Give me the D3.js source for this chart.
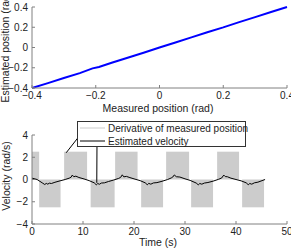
<!DOCTYPE html>
<html>
<head>
<meta charset="utf-8">
<script src="https://cdn.jsdelivr.net/npm/d3@7"></script>
<style>
  body { margin: 0; background: #fff; }
  svg { font-family: "Liberation Sans", Arial, sans-serif; }
  text { fill: #222; }
</style>
</head>
<body>
<svg id="chart" width="291" height="248"></svg>
<script>
// top panel: measured vs estimated position
const posTicks = [-0.4, -0.2, 0, 0.2, 0.4];
const measured = [-0.4, -0.35, -0.3, -0.25, -0.21, -0.19, -0.15, -0.1, -0.05, 0, 0.05, 0.1, 0.15, 0.2, 0.25, 0.3, 0.35, 0.4];
const estimated = [-0.4, -0.352, -0.302, -0.253, -0.206, -0.192, -0.151, -0.101, -0.052, 0.0, 0.049, 0.1, 0.151, 0.199, 0.251, 0.3, 0.351, 0.4];

// bottom panel: velocity
const velTicks = [-4, -2, 0, 2, 4];
const timeTicks = [0, 10, 20, 30, 40, 50];
// derivative of measured position: blocks [start, end, level]
const derivStart = [0, 1.4, 6.3, 11.5, 16.3, 21.4, 26.3, 31.2, 36.3, 41.2];
const derivEnd   = [1.4, 5.6, 10.8, 16.2, 20.7, 25.7, 30.8, 35.5, 40.6, 45.5];
const derivLevel = [2.5, -2.5, 2.5, -2.5, 2.5, -2.5, 2.5, -2.5, 2.5, -2.5];
// estimated velocity
const velTime = [0, 1, 2, 2.5, 2.8, 3.1, 3.4, 3.8, 4.5, 5.5, 6.5, 7.3, 7.7, 7.9, 8.2, 8.6, 9.2, 10.2, 11.2, 12.2, 12.6, 12.9, 13.2, 13.6, 14.2, 15, 16, 17, 17.4, 17.7, 18, 18.5, 19.2, 20.2, 21.2, 22.2, 22.6, 22.9, 23.3, 23.8, 24.5, 25.5, 26.6, 27.3, 27.6, 27.9, 28.3, 29, 30, 31, 32.2, 32.6, 32.9, 33.3, 33.8, 34.5, 35.5, 36.6, 37.2, 37.6, 37.9, 38.3, 39, 40, 41, 42, 42.4, 42.7, 43.1, 43.6, 44.3, 45.7];
const velValue = [0.12, 0.0, -0.3, -0.45, -0.35, -0.42, -0.33, -0.36, -0.25, -0.12, 0.0, 0.12, 0.22, 0.4, 0.25, 0.3, 0.18, 0.05, -0.1, -0.3, -0.48, -0.36, -0.43, -0.32, -0.3, -0.18, -0.05, 0.1, 0.2, 0.42, 0.24, 0.28, 0.17, 0.03, -0.1, -0.3, -0.47, -0.35, -0.42, -0.31, -0.28, -0.16, 0.0, 0.14, 0.22, 0.41, 0.25, 0.22, 0.06, -0.08, -0.32, -0.48, -0.36, -0.42, -0.32, -0.27, -0.15, 0.02, 0.14, 0.4, 0.26, 0.25, 0.12, 0.0, -0.12, -0.3, -0.47, -0.36, -0.42, -0.3, -0.24, 0.0];

const svg = d3.select("#chart");
const x0 = 32, x1 = 287;

function drawAxes(g, x, y, xt, yt, xfmt, yfmt, bottom, top) {
  // bottom axis line + ticks inside
  g.append("line").attr("x1", x0).attr("x2", x1).attr("y1", bottom).attr("y2", bottom)
    .attr("stroke", "#808080").attr("stroke-width", 1);
  g.append("line").attr("x1", x0).attr("x2", x0).attr("y1", top).attr("y2", bottom)
    .attr("stroke", "#808080").attr("stroke-width", 1);
  g.selectAll(".xt").data(xt).enter().append("line")
    .attr("x1", d => x(d)).attr("x2", d => x(d))
    .attr("y1", bottom).attr("y2", bottom - 3)
    .attr("stroke", "#808080");
  g.selectAll(".yt").data(yt).enter().append("line")
    .attr("x1", x0).attr("x2", x0 + 3)
    .attr("y1", d => y(d)).attr("y2", d => y(d))
    .attr("stroke", "#808080");
  g.selectAll(".xl").data(xt).enter().append("text")
    .attr("x", d => x(d)).attr("y", bottom + 11)
    .attr("text-anchor", "middle").attr("font-size", 10)
    .text(xfmt);
  g.selectAll(".yl").data(yt).enter().append("text")
    .attr("x", x0 - 4).attr("y", d => y(d) + 3.5)
    .attr("text-anchor", "end").attr("font-size", 10)
    .text(yfmt);
}

const fmtPos = d => d === 0 ? "0" : d3.format(".1f")(d).replace("-", "\u2212");
const fmtInt = d => String(d).replace("-", "\u2212");

// ---- top panel
const xP = d3.scaleLinear().domain([-0.4, 0.4]).range([x0, x1]);
const yP = d3.scaleLinear().domain([-0.4, 0.4]).range([88, 7]);
const gTop = svg.append("g");

gTop.append("path")
  .datum(d3.zip(measured, estimated))
  .attr("fill", "none").attr("stroke", "#0000ff").attr("stroke-width", 2)
  .attr("d", d3.line().x(d => xP(d[0])).y(d => yP(d[1])));

drawAxes(gTop, xP, yP, posTicks, posTicks, fmtPos, fmtPos, 88, 7);

gTop.append("text").attr("x", 158).attr("y", 112)
  .attr("text-anchor", "middle").attr("font-size", 10.5)
  .text("Measured position (rad)");
gTop.append("text").attr("transform", "translate(9,47) rotate(-90)")
  .attr("text-anchor", "middle").attr("font-size", 10.5)
  .text("Estimated position (rad)");

// ---- bottom panel
const xT = d3.scaleLinear().domain([0, 50]).range([x0, x1]);
const yV = d3.scaleLinear().domain([-4, 4]).range([224, 135]);
const gBot = svg.append("g");

gBot.selectAll("rect.deriv").data(derivStart).enter().append("rect")
  .attr("class", "deriv")
  .attr("x", (d, i) => xT(d))
  .attr("width", (d, i) => xT(derivEnd[i]) - xT(d))
  .attr("y", (d, i) => Math.min(yV(derivLevel[i]), yV(0)))
  .attr("height", (d, i) => Math.abs(yV(derivLevel[i]) - yV(0)))
  .attr("fill", "#cccccc");

gBot.append("path")
  .datum(d3.zip(velTime, velValue))
  .attr("fill", "none").attr("stroke", "#000").attr("stroke-width", 1)
  .attr("d", d3.line().x(d => xT(d[0])).y(d => yV(d[1])));

drawAxes(gBot, xT, yV, timeTicks, velTicks, fmtInt, fmtInt, 224, 135);

gBot.append("text").attr("x", 158).attr("y", 246)
  .attr("text-anchor", "middle").attr("font-size", 10.5)
  .text("Time (s)");
gBot.append("text").attr("transform", "translate(10,176) rotate(-90)")
  .attr("text-anchor", "middle").attr("font-size", 10.5)
  .text("Velocity (rad/s)");

// arrows
const defs = svg.append("defs");
defs.append("marker").attr("id", "ah").attr("viewBox", "0 0 10 10")
  .attr("refX", 9).attr("refY", 5).attr("markerWidth", 7).attr("markerHeight", 7)
  .attr("orient", "auto")
  .append("path").attr("d", "M0,1 L10,5 L0,9 z").attr("fill", "#000");

gBot.append("line")
  .attr("x1", xT(6.7)).attr("y1", yV(2.4)).attr("x2", 84).attr("y2", 130)
  .attr("stroke", "#000").attr("marker-end", "url(#ah)");
gBot.append("line")
  .attr("x1", xT(12.7)).attr("y1", yV(-0.3)).attr("x2", 97).attr("y2", 141)
  .attr("stroke", "#000").attr("marker-end", "url(#ah)");

// legend
const lg = gBot.append("g");
lg.append("rect").attr("x", 77.5).attr("y", 121.5).attr("width", 168).attr("height", 25)
  .attr("fill", "#fff").attr("stroke", "#333");
lg.append("line").attr("x1", 80).attr("x2", 105).attr("y1", 128).attr("y2", 128)
  .attr("stroke", "#cccccc");
lg.append("line").attr("x1", 80).attr("x2", 105).attr("y1", 141).attr("y2", 141)
  .attr("stroke", "#000");
lg.append("text").attr("x", 108).attr("y", 131.5).attr("font-size", 10).text("Derivative of measured position");
lg.append("text").attr("x", 108).attr("y", 144.5).attr("font-size", 10).text("Estimated velocity");
</script>
</body>
</html>
